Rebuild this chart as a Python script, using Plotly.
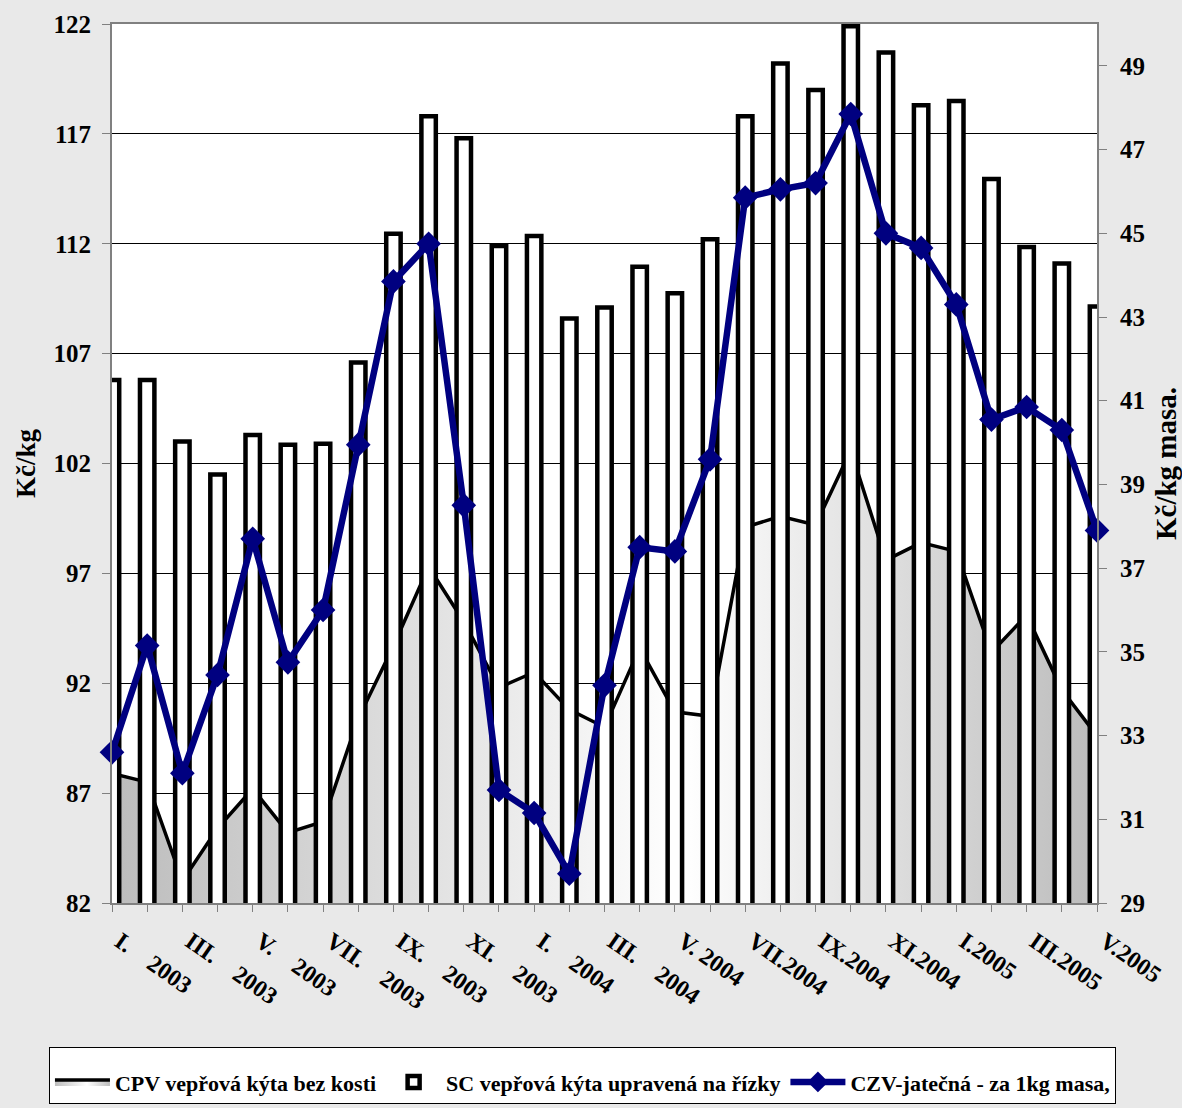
import plotly.graph_objects as go

# mesice I.2003 - V.2005
mesice = list(range(29))
popisky_pozice = list(range(0, 29, 2))
mezera = "\u00a0\u00a0\u00a0 "
popisky = ["I." + mezera + "2003", "III." + mezera + "2003", "V." + mezera + "2003",
           "VII." + mezera + "2003", "IX." + mezera + "2003", "XI." + mezera + "2003",
           "I." + mezera + "2004", "III." + mezera + "2004", "V. 2004",
           "VII.2004", "IX.2004", "XI.2004", "I.2005", "III.2005", "V.2005"]

# CPV vepřová kýta bez kosti (Kč/kg)
cpv = [87.9, 87.5, 83.0, 85.4, 87.2, 85.2, 85.7, 90.4, 93.7, 97.3, 94.8, 91.8, 92.5, 90.8,
       90.0, 93.6, 90.7, 90.5, 99.1, 99.6, 99.2, 102.6, 97.6, 98.4, 98.0, 93.4, 95.1, 91.7, 89.6]
# SC vepřová kýta upravená na řízky (Kč/kg)
sc = [105.8, 105.8, 103.0, 101.5, 103.3, 102.85, 102.9, 106.6, 112.45, 117.8, 116.8, 111.9,
      112.35, 108.6, 109.1, 110.95, 109.75, 112.2, 117.8, 120.2, 119.0, 121.9, 120.7, 118.3,
      118.5, 114.95, 111.85, 111.1, 109.15]
# CZV jatečná - za 1 kg masa (Kč/kg masa)
czv = [32.6, 35.15, 32.1, 34.45, 37.7, 34.75, 36.0, 39.95, 43.85, 44.75, 38.5, 31.7, 31.15,
       29.7, 34.2, 37.5, 37.4, 39.6, 45.85, 46.05, 46.2, 47.85, 45.0, 44.65, 43.3, 40.55,
       40.85, 40.3, 37.9]

FONT = "Liberation Serif, Times New Roman, serif"
OSA = "#808080"

fig = go.Figure()

fig.add_trace(go.Scatter(
    x=mesice, y=cpv, name="CPV vepřová kýta bez kosti", mode="lines",
    line=dict(color="black", width=3.5), fill="tozeroy",
    fillgradient=dict(type="horizontal", start=0, stop=28,
                      colorscale=[[0, "#bcbcbc"], [0.58, "#ffffff"], [1, "#bcbcbc"]]),
    yaxis="y"))

fig.add_trace(go.Bar(
    x=mesice, y=sc, name="SC vepřová kýta upravená na řízky", width=0.41,
    marker=dict(color="white", line=dict(color="black", width=4.5)),
    yaxis="y2"))

fig.add_trace(go.Scatter(
    x=mesice, y=czv, name="CZV-jatečná - za 1kg masa,", mode="lines+markers",
    line=dict(color="#000080", width=6.5),
    marker=dict(symbol="diamond", size=19, color="#000080"),
    cliponaxis=False, yaxis="y3"))

fig.update_layout(
    width=1182, height=1108,
    margin=dict(l=112, r=85, t=24, b=205, autoexpand=False),
    paper_bgcolor="#e9e9e9", plot_bgcolor="white",
    font=dict(family=FONT, size=24, color="black", weight="bold"),
    showlegend=True,
    legend=dict(orientation="h", x=-0.064, xanchor="left", y=-0.164, yanchor="top",
                bgcolor="white", bordercolor="black", borderwidth=1,
                font=dict(family=FONT, size=22, color="black", weight="bold"),
                itemwidth=55, traceorder="normal",
                title=dict(text="\u00a0", side="top", font=dict(size=10))),
    xaxis=dict(range=[0, 28], tickmode="array", tickvals=popisky_pozice, ticktext=popisky,
               tickangle=35, ticks="outside", ticklen=7, tickcolor=OSA,
               ticklabelshift=8, ticklabelstandoff=6,
               tickfont=dict(size=24, weight="bold"),
               showgrid=False, zeroline=False, showline=True, linecolor=OSA, linewidth=2,
               mirror=True,
               minor=dict(tickmode="array", tickvals=mesice, ticks="outside",
                          ticklen=7, tickcolor=OSA)),
    yaxis=dict(range=[82, 122], tick0=82, dtick=5, showgrid=True, gridcolor="black",
               gridwidth=1, zeroline=False, showline=True, linecolor=OSA, linewidth=2,
               ticks="outside", ticklen=8, tickcolor=OSA, ticklabelstandoff=6,
               tickfont=dict(size=25, weight="bold"),
               title=dict(text="Kč/kg", font=dict(size=27, weight="bold"), standoff=10)),
    yaxis2=dict(range=[82, 122], overlaying="y", visible=False),
    yaxis3=dict(range=[29, 50], overlaying="y", side="right", tick0=29, dtick=2,
                showgrid=False, zeroline=False, showline=True, linecolor=OSA, linewidth=2,
                ticks="outside", ticklen=8, tickcolor=OSA, ticklabelstandoff=8,
                tickfont=dict(size=25, weight="bold"),
                title=dict(text="Kč/kg masa.", font=dict(size=29, weight="bold"), standoff=16)),
)

fig.write_html("out.html", config={"displayModeBar": False},
               post_script="document.body.style.margin='0px';")
